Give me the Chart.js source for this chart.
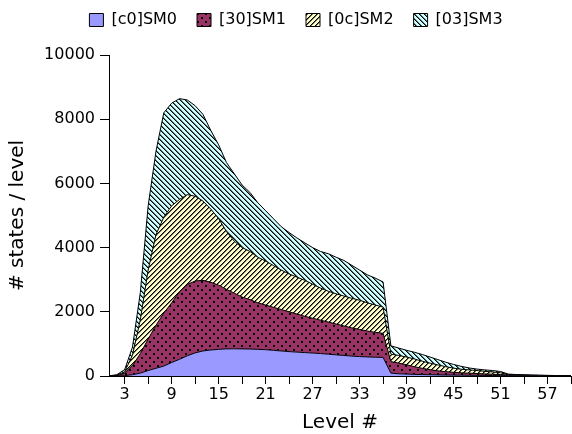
<!DOCTYPE html>
<html>
<head>
<meta charset="utf-8">
<script src="https://cdn.jsdelivr.net/npm/chart.js@4"></script>
<style>
  html, body { margin: 0; padding: 0; background: #fff; }
  canvas { display: block; }
</style>
</head>
<body>
<canvas id="levels_chart" width="572" height="434"></canvas>
<script>
// Levels 1..60
const levels = [1,2,3,4,5,6,7,8,9,10, 11,12,13,14,15,16,17,18,19,20,
                21,22,23,24,25,26,27,28,29,30, 31,32,33,34,35,36,37,38,39,40,
                41,42,43,44,45,46,47,48,49,50, 51,52,53,54,55,56,57,58,59,60];

// states per level, one array per state machine (stacked)
const sm0 = [0,0,10,40,90,170,240,310,420,520, 630,720,780,810,830,845,848,845,840,830,
             820,800,780,760,745,730,715,700,680,660, 640,620,605,595,585,580,90,70,60,50,
             45,40,35,30,28,25,22,20,18,15, 12,10,8,6,5,4,3,2,1,1];
const sm1 = [0,10,70,280,610,980,1340,1650,1860,2100, 2220,2240,2200,2110,2000,1855,1732,1615,1540,1450,
             1390,1340,1290,1240,1185,1130,1085,1040,1000,960, 920,880,845,805,775,750,360,330,290,240,
             195,155,125,105,87,75,66,58,47,40, 33,20,17,14,10,8,7,5,4,2];
const sm2 = [0,15,50,330,1050,2150,2820,2990,3020,2880, 2800,2640,2470,2280,2070,1800,1620,1540,1500,1420,
             1370,1300,1230,1180,1150,1120,1060,1000,960,940, 930,920,910,880,850,820,230,240,240,240,
             220,205,185,155,130,110,102,92,80,70, 55,15,10,10,10,8,5,4,2,1];
const sm3 = [5,15,70,250,850,2000,2600,3250,3200,3140, 2950,2820,2700,2450,2300,2150,2100,1950,1840,1700,
             1570,1460,1350,1290,1220,1170,1140,1140,1170,1140, 1110,1030,940,870,840,780,260,230,210,210,
             210,190,165,140,115,90,60,45,45,45, 40,15,10,8,5,5,5,4,3,1];

const seriesNames = ['[c0]SM0', '[30]SM1', '[0c]SM2', '[03]SM3'];

const xTicks = [3,6,9,12,15,18,21,24,27,30,33,36,39,42,45,48,51,54,57,60];
const xTickLabels = [3,9,15,21,27,33,39,45,51,57];
const yTicks = [0,2000,4000,6000,8000,10000];

// Fill patterns
function makePattern(size, bg, draw) {
    var c = document.createElement('canvas');
    c.width = size;
    c.height = size;
    var g = c.getContext('2d');
    g.fillStyle = bg;
    g.fillRect(0, 0, size, size);
    draw(g, size);
    return g.createPattern(c, 'repeat');
}

// diagonal hatch, 5px period: one dark pixel + one half-tone pixel per row
function hatch(dir) {
    return function (g, size) {
        for (var y = 0; y < size; ++y) {
            for (var x = 0; x < size; ++x) {
                var d = dir > 0 ? (x + y) % 5 : ((x - y) % 5 + 5) % 5;
                if (d == 0) { g.fillStyle = '#000'; g.fillRect(x, y, 1, 1); }
                else if (d == 1) { g.fillStyle = 'rgba(0,0,0,0.55)'; g.fillRect(x, y, 1, 1); }
            }
        }
    };
}

var fillSM0 = '#9999ff';
var fillSM1 = makePattern(8, '#993366', function (g) {
    g.fillStyle = '#000';
    g.fillRect(1, 1, 2, 2);
    g.fillRect(5, 5, 2, 2);
});
var fillSM2 = makePattern(10, '#ffffcc', hatch(1));
var fillSM3 = makePattern(10, '#ccffff', hatch(-1));

function pts(arr) {
    return levels.map(function (l, i) { return { x: l, y: arr[i] }; });
}

// legend sits 17px higher than Chart.js would put the plot
const legendGap = {
    id: 'legendGap',
    beforeLayout(chart) {
        var lg = chart.legend;
        if (lg && !lg._gapPatched) {
            var fit = lg.fit;
            lg.fit = function () {
                fit.call(this);
                this.height += 17;
            };
            lg._gapPatched = true;
        }
    }
};

Chart.defaults.font.family = "'DejaVu Sans', sans-serif";
Chart.defaults.color = '#000';

var ctx = document.getElementById('levels_chart').getContext('2d');
var chart = new Chart(ctx, {
    type: 'line',
    data: {
        datasets: [{
            label: seriesNames[0],
            data: pts(sm0),
            backgroundColor: fillSM0,
            fill: 'origin'
        },
        {
            label: seriesNames[1],
            data: pts(sm1),
            backgroundColor: fillSM1,
            fill: '-1'
        },
        {
            label: seriesNames[2],
            data: pts(sm2),
            backgroundColor: fillSM2,
            fill: '-1'
        },
        {
            label: seriesNames[3],
            data: pts(sm3),
            backgroundColor: fillSM3,
            fill: '-1'
        }]
    },
    options: {
        responsive: false,
        animation: false,
        devicePixelRatio: 1,
        layout: { padding: { left: 20, right: 0, top: -8, bottom: 0 } },
        elements: {
            line: { borderColor: '#000', borderWidth: 1, tension: 0 },
            point: { radius: 0, hoverRadius: 0 }
        },
        plugins: {
            legend: {
                position: 'top',
                labels: {
                    boxWidth: 14,
                    boxHeight: 13,
                    padding: 20,
                    font: { size: 16 }
                }
            },
            tooltip: { enabled: false }
        },
        scales: {
            x: {
                type: 'linear',
                min: 1,
                max: 60,
                border: { color: '#000', width: 1 },
                grid: { drawOnChartArea: false, drawTicks: true, tickLength: 8, tickColor: '#000' },
                afterBuildTicks: function (axis) {
                    axis.ticks = xTicks.map(function (v) { return { value: v }; });
                },
                afterFit: function (axis) { axis.height = 58; },
                ticks: {
                    autoSkip: false,
                    maxRotation: 0,
                    padding: 1,
                    font: { size: 16 },
                    callback: function (v) {
                        return xTickLabels.indexOf(v) >= 0 ? String(v) : '';
                    }
                },
                title: {
                    display: true,
                    text: 'Level #',
                    font: { size: 20 },
                    padding: { top: 0, bottom: -1 }
                }
            },
            y: {
                stacked: true,
                min: 0,
                max: 10000,
                border: { color: '#000', width: 1 },
                grid: { drawOnChartArea: false, drawTicks: true, tickLength: 9, tickColor: '#000' },
                afterBuildTicks: function (axis) {
                    axis.ticks = yTicks.map(function (v) { return { value: v }; });
                },
                afterFit: function (axis) { axis.width = 89; },
                ticks: {
                    padding: 5,
                    font: { size: 16 },
                    callback: function (v) { return String(v); }
                },
                title: {
                    display: true,
                    text: '# states / level',
                    font: { size: 20 },
                    padding: { top: -14, bottom: 0 }
                }
            }
        }
    },
    plugins: [legendGap]
});
</script>
</body>
</html>
